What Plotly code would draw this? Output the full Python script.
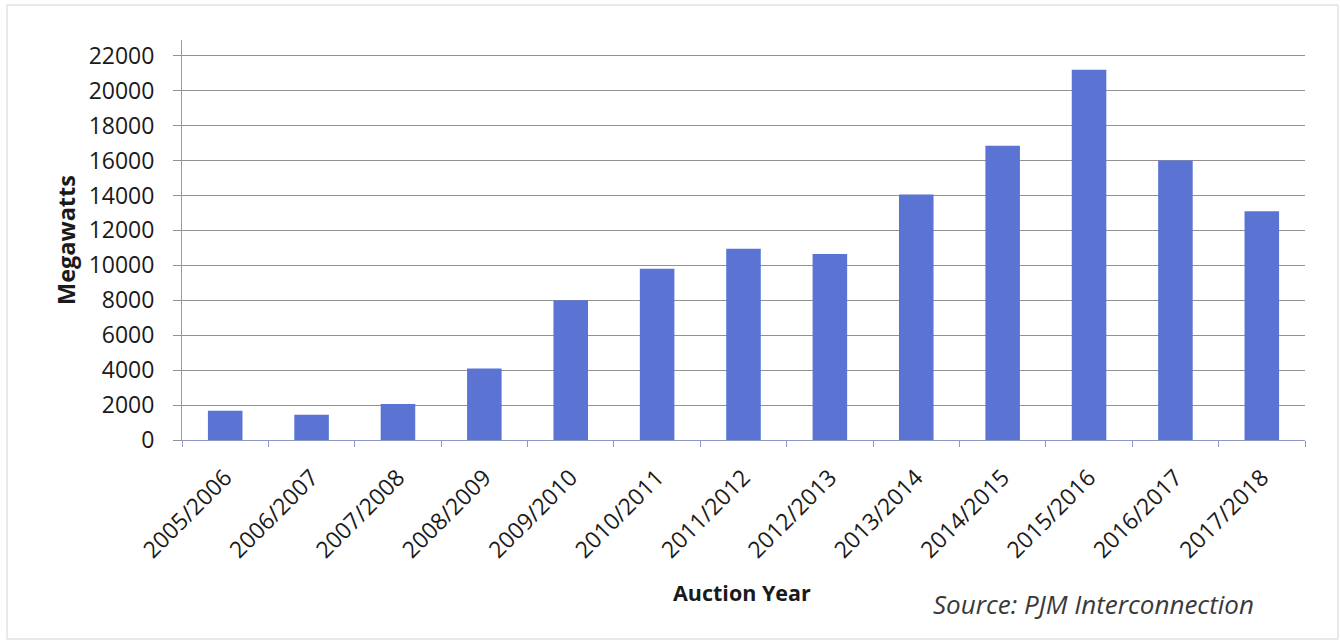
import plotly.graph_objects as go

# PJM capacity auction results (megawatts) by delivery year
auction_years = ["2005/2006", "2006/2007", "2007/2008", "2008/2009", "2009/2010",
                 "2010/2011", "2011/2012", "2012/2013", "2013/2014", "2014/2015",
                 "2015/2016", "2016/2017", "2017/2018"]
megawatts = [1680, 1450, 2060, 4100, 8000, 9800, 10950, 10650, 14050, 16850,
             21200, 16000, 13100]
y_ticks = list(range(0, 22001, 2000))

FONT = "Open Sans"
INK = "#1a1a1a"

fig = go.Figure(
    go.Bar(
        x=auction_years,
        y=megawatts,
        marker=dict(color="#5b74d3", line=dict(width=0)),
        width=0.4,
        hoverinfo="x+y",
    )
)

fig.update_layout(
    width=1340,
    height=640,
    margin=dict(l=182, r=35, t=40, b=200),
    paper_bgcolor="white",
    plot_bgcolor="white",
    showlegend=False,
    font=dict(family=FONT, color=INK, size=22),
)

fig.update_xaxes(
    type="category",
    tickangle=-45,
    tickfont=dict(family=FONT, size=23, color=INK),
    showline=True,
    linecolor="#8e97c8",
    linewidth=1,
    ticks="outside",
    tickson="boundaries",
    ticklen=6,
    tickcolor="#8e97c8",
    ticklabelstandoff=14,
    showgrid=False,
)

fig.update_yaxes(
    range=[0, 22900],
    tickvals=y_ticks,
    ticktext=[str(v) for v in y_ticks],
    tickfont=dict(family=FONT, size=23, color=INK),
    showline=True,
    linecolor="#8e97c8",
    linewidth=1,
    ticks="outside",
    ticklen=8,
    tickcolor="#929292",
    ticklabelstandoff=14,
    showgrid=True,
    gridcolor="#929292",
    gridwidth=1,
    zeroline=False,
)

# axis titles and source note (positions in pixels, converted below)
fig.add_annotation(
    text="<b>Megawatts</b>", x=66, y=240, showarrow=False, textangle=-90,
    font=dict(family=FONT, size=23.5, color=INK),
)
fig.add_annotation(
    text="<b>Auction Year</b>", x=742, y=592, showarrow=False,
    font=dict(family=FONT, size=21.5, color=INK),
)
fig.add_annotation(
    text="<i>Source: PJM Interconnection</i>", x=1093, y=604, showarrow=False,
    font=dict(family=FONT, size=26, color="#3a3a3a"),
)

PLOT_W = 1340 - 182 - 35
PLOT_H = 640 - 40 - 200
for ann in fig.layout.annotations:
    px, py = ann.x, ann.y
    ann.xref = "paper"
    ann.yref = "paper"
    ann.xanchor = "center"
    ann.yanchor = "middle"
    ann.x = (px - 182) / PLOT_W
    ann.y = (440 - py) / PLOT_H

# outer chart frame
fig.add_shape(
    type="rect", xref="paper", yref="paper",
    x0=(7 - 182) / PLOT_W, x1=(1338 - 182) / PLOT_W,
    y0=(440 - 639) / PLOT_H, y1=(440 - 5) / PLOT_H,
    line=dict(color="#d4d4d4", width=1), fillcolor="rgba(0,0,0,0)", layer="below",
)

fig.write_html("out.html")
